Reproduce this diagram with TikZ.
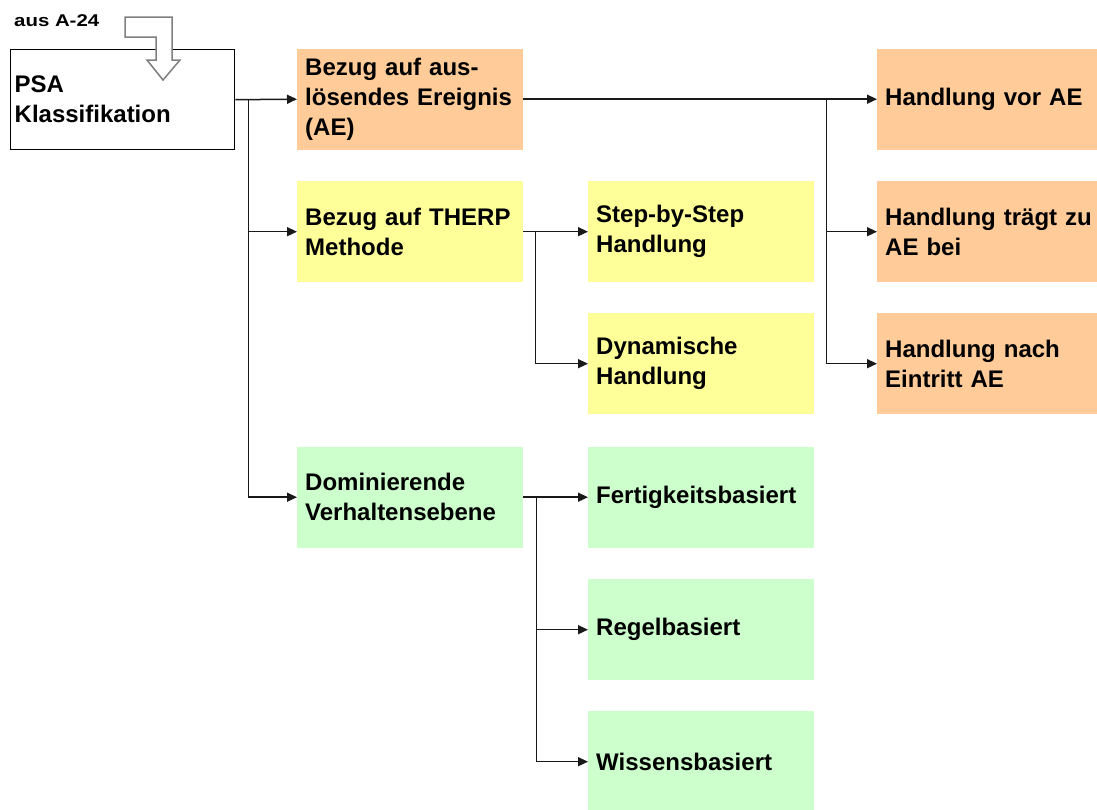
\documentclass[tikz,border=0pt]{standalone}
\usepackage{fontspec}
\usepackage{graphicx}
\setmainfont{Liberation Sans}
\usetikzlibrary{arrows.meta,calc}

\definecolor{aecol}{HTML}{FFCC99}
\definecolor{therpcol}{HTML}{FFFF99}
\definecolor{levelcol}{HTML}{CCFFCC}
\definecolor{hollowgray}{HTML}{7F7F7F}

\tikzset{
  box/.style={anchor=north west, minimum width=226pt, minimum height=101pt,
    text width=210pt, inner xsep=8pt, inner ysep=0pt, align=left,
    font=\fontsize{24}{30}\selectfont\bfseries, text=black},
  aebox/.style={box, fill=aecol},
  therpbox/.style={box, fill=therpcol},
  levelbox/.style={box, fill=levelcol},
  link/.style={line width=1.5pt, draw=black!90},
  arr/.style={link, -{Triangle[length=10pt,width=9pt]}}
}

\begin{document}
\begin{tikzpicture}[x=1pt,y=-1pt]
\useasboundingbox (0,0) rectangle (1097,809);

% source box
\node[anchor=north west, draw=black, line width=1.4pt, minimum width=224pt,
  minimum height=100pt, text width=216pt, inner xsep=4pt, inner ysep=0pt,
  align=left, font=\fontsize{24}{30}\selectfont\bfseries]
  (psa) at (10,49) {PSA\\Klassifikation};

% incoming reference label and hollow arrow
\node[anchor=base west, inner sep=0pt, font=\fontsize{17}{20}\selectfont\bfseries]
  (src) at (14,26) {\scalebox{1.2}[1]{aus A-24}};
\draw[draw=hollowgray, fill=white, line width=1.5pt, line join=miter]
  (125,17) -- (172,17) -- (172,60) -- (180,60) -- (163,80) -- (147,60)
  -- (156,60) -- (156,37) -- (125,37) -- cycle;

% first column
\node[aebox]    (ae)    at (297,48.5) {Bezug auf aus-\\lösendes Ereignis\\(AE)};
\node[therpbox] (therp) at (297,181)  {Bezug auf THERP\\Methode};
\node[levelbox] (dom)   at (297,446.5) {Dominierende\\Verhaltensebene};

% second column
\node[therpbox] (step)   at (588,181)   {Step-by-Step\\Handlung};
\node[therpbox] (dyn)    at (588,313)   {Dynamische\\Handlung};
\node[levelbox] (fert)   at (588,446.5) {Fertigkeitsbasiert};
\node[levelbox] (regel)  at (588,579)   {Regelbasiert};
\node[levelbox] (wissen) at (588,711)   {Wissensbasiert};

% third column
\node[aebox] (vor)    at (877,48.5) {Handlung vor AE};
\node[aebox] (traegt) at (877,181)  {Handlung trägt zu\\AE bei};
\node[aebox] (nach)   at (877,313)  {Handlung nach\\Eintritt AE};

% junction points on the vertical trunks
\coordinate (j1) at ($(psa.east)+(13,0)$);
\coordinate (j2) at ($(ae.east)+(303,0)$);
\coordinate (j3) at ($(therp.east)+(12,0)$);
\coordinate (j4) at ($(dom.east)+(13,0)$);

% connectors
\draw[arr] (psa.east) -- (ae.west);
\draw[arr] (j1) |- (therp.west);
\draw[arr] (j1) |- (dom.west);

\draw[arr] (ae.east) -- (vor.west);
\draw[arr] (j2) |- (traegt.west);
\draw[arr] (j2) |- (nach.west);

\draw[arr] (therp.east) -- (step.west);
\draw[arr] (j3) |- (dyn.west);

\draw[arr] (dom.east) -- (fert.west);
\draw[arr] (j4) |- (regel.west);
\draw[arr] (j4) |- (wissen.west);
\end{tikzpicture}
\end{document}
